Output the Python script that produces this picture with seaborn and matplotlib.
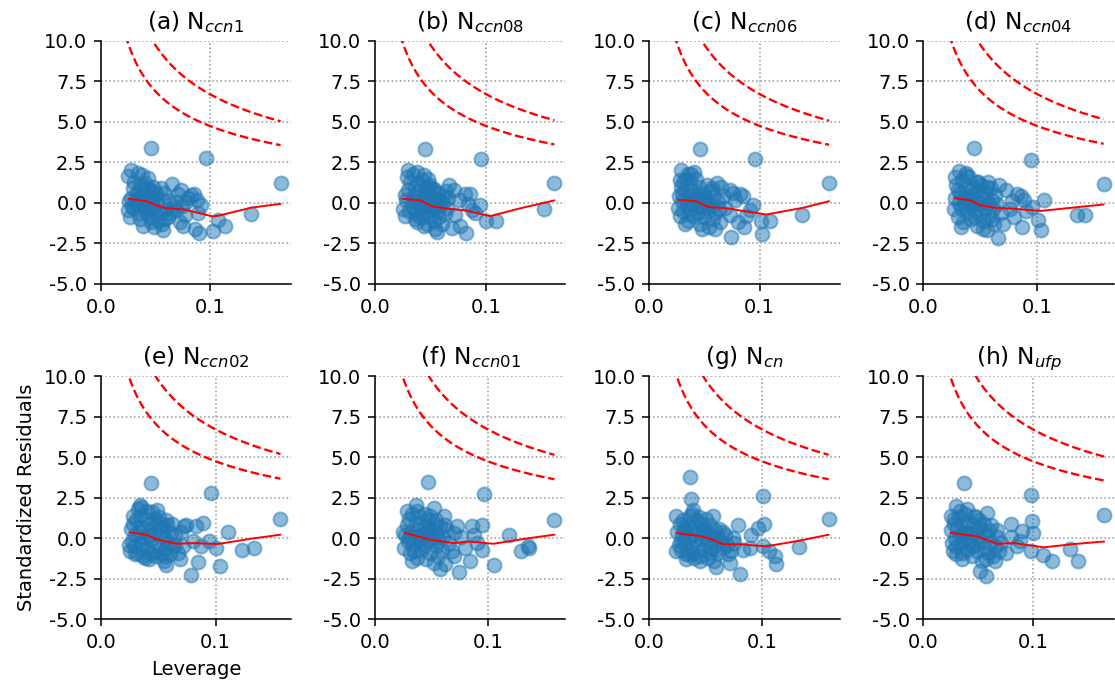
import numpy as np
import pandas as pd
import matplotlib
matplotlib.use("Agg")
import matplotlib.pyplot as plt
import seaborn as sns

# ── data (leverage, standardized residual) ──
pts_a = [(0.0466, 3.40), (0.0963, 2.75), (0.1650, 1.22), (0.1380, -0.70), (0.1140, -1.40), (0.1080, -1.05),
         (0.1030, -1.75), (0.0900, -1.85), (0.0863, -1.60), (0.0756, -1.45), (0.0726, -1.20), (0.0920, -0.15),
         (0.0890, -0.65), (0.0770, -0.75), (0.0830, 0.46), (0.0860, 0.56), (0.0740, 0.77), (0.0650, 1.14),
         (0.0710, 0.56), (0.0780, 0.05), (0.0695, 0.05), (0.0695, -0.47), (0.0800, 0.30), (0.0880, 0.20),
         (0.0750, -0.20), (0.0253, 1.63), (0.0275, 2.00), (0.0344, 1.85), (0.0380, 1.70), (0.0436, 1.55),
         (0.0410, 1.20), (0.0300, 0.90), (0.0330, 0.60), (0.0280, 0.30), (0.0260, 0.10), (0.0253, -0.47),
         (0.0270, -0.88), (0.0300, -0.30), (0.0330, -0.10), (0.0350, 0.30), (0.0370, 0.90), (0.0390, 0.50),
         (0.0400, -0.20), (0.0420, -0.60), (0.0390, -1.40), (0.0360, -1.00), (0.0440, 0.20), (0.0460, 0.70),
         (0.0480, 1.00), (0.0500, 0.40), (0.0520, -0.10), (0.0527, -1.09), (0.0560, -1.30), (0.0573, -1.70),
         (0.0540, -0.60), (0.0570, 0.10), (0.0580, 0.60), (0.0600, -0.40), (0.0620, -0.90), (0.0450, -0.90),
         (0.0480, -0.30), (0.0310, 1.30), (0.0340, -0.60), (0.0430, 0.90), (0.0500, -0.70), (0.0460, -1.20),
         (0.0550, 0.90), (0.0290, -0.20), (0.0320, 0.20), (0.0380, 0.00), (0.0410, -0.40), (0.0470, 0.10),
         (0.0510, 0.60), (0.0630, 0.20), (0.0660, -0.30), (0.0640, -0.60), (0.0590, -1.00), (0.0360, 1.10),
         (0.0440, -0.30), (0.0490, -1.50)]
pts_b = [(0.0449, 3.34), (0.0958, 2.68), (0.1617, 1.22), (0.1524, -0.36), (0.1093, -1.09), (0.1000, -1.12),
         (0.0300, 2.05), (0.0665, 1.07), (0.0815, 0.56), (0.0860, 0.56), (0.0950, -0.16), (0.0875, -0.47),
         (0.0725, -0.78), (0.0710, 0.77), (0.0485, 0.98), (0.0530, 0.88), (0.0440, 1.70), (0.0380, 1.90),
         (0.0818, -1.83), (0.0690, -1.58), (0.0770, -1.40), (0.0760, 0.20), (0.0900, -0.60), (0.0650, -0.30),
         (0.0840, -0.10), (0.0250, -0.40), (0.0270, -0.80), (0.0280, 0.20), (0.0300, 0.80), (0.0320, 1.30),
         (0.0330, -0.20), (0.0350, 0.40), (0.0360, 1.00), (0.0370, -0.60), (0.0380, -1.20), (0.0390, 0.10),
         (0.0400, 0.70), (0.0410, -0.30), (0.0420, 1.40), (0.0430, -0.90), (0.0440, 0.30), (0.0450, -0.50),
         (0.0460, 0.90), (0.0470, -1.30), (0.0480, 0.00), (0.0490, 0.50), (0.0500, -0.80), (0.0510, -0.20),
         (0.0520, 0.30), (0.0530, -1.10), (0.0540, -1.60), (0.0550, 0.10), (0.0560, -0.50), (0.0570, 0.60),
         (0.0580, -0.90), (0.0600, -1.30), (0.0610, 0.00), (0.0620, 0.40), (0.0630, -0.70), (0.0290, 1.60),
         (0.0340, 1.80), (0.0310, -0.50), (0.0360, -1.00), (0.0390, 1.20), (0.0420, 0.00), (0.0450, 0.60),
         (0.0470, -0.20), (0.0500, 1.10), (0.0530, 0.70), (0.0580, 0.20), (0.0640, 0.70), (0.0660, 0.30),
         (0.0440, -1.40), (0.0560, -1.80), (0.0340, 0.10), (0.0400, -0.80), (0.0480, 1.50), (0.0520, -0.40),
         (0.0590, -0.20), (0.0270, 0.50)]
pts_c = [(0.0464, 3.34), (0.0955, 2.72), (0.1630, 1.22), (0.1380, -0.78), (0.1090, -1.09), (0.1015, -1.09),
         (0.0653, 1.00), (0.0820, 0.56), (0.0850, 0.45), (0.0940, -0.16), (0.0292, 2.05), (0.0380, 1.80),
         (0.0307, 1.30), (0.0730, 0.77), (0.0910, -0.47), (0.0730, -0.78), (0.0740, -2.10), (0.1020, -1.90),
         (0.0860, -1.50), (0.0780, 0.20), (0.0690, -0.30), (0.0800, -1.20), (0.0880, -0.80), (0.0760, 0.60),
         (0.0680, 0.40), (0.0260, -0.30), (0.0270, 0.40), (0.0280, -0.80), (0.0290, 1.00), (0.0300, 0.10),
         (0.0310, -0.50), (0.0320, 0.70), (0.0330, 1.50), (0.0340, -0.10), (0.0350, -1.10), (0.0360, 0.40),
         (0.0370, 1.20), (0.0380, -0.40), (0.0390, 0.80), (0.0400, 0.00), (0.0410, -0.80), (0.0420, 1.50),
         (0.0430, 0.30), (0.0440, -0.60), (0.0450, 1.00), (0.0460, -1.30), (0.0470, 0.10), (0.0480, 0.60),
         (0.0490, -0.30), (0.0500, -0.90), (0.0510, 0.30), (0.0520, 1.10), (0.0530, -0.50), (0.0540, -1.50),
         (0.0550, 0.00), (0.0560, 0.70), (0.0570, -0.20), (0.0580, -1.00), (0.0590, 0.40), (0.0600, -0.60),
         (0.0610, 1.20), (0.0620, 0.10), (0.0630, -0.40), (0.0640, -1.20), (0.0320, -1.30), (0.0350, 1.80),
         (0.0410, 1.90), (0.0450, -0.20), (0.0480, -1.60), (0.0360, -0.70), (0.0300, 0.60), (0.0440, 0.50),
         (0.0520, -0.10), (0.0570, 0.90), (0.0600, -1.60), (0.0280, 1.40), (0.0380, 0.20)]
pts_d = [(0.0445, 3.40), (0.0947, 2.66), (0.1585, 1.14), (0.1064, 0.19), (0.1350, -0.78), (0.1424, -0.78),
         (0.1006, -1.05), (0.0956, -0.27), (0.1035, -1.70), (0.0868, -1.50), (0.0664, 1.10), (0.0722, 0.77),
         (0.0825, 0.56), (0.0854, 0.45), (0.0883, 0.15), (0.0313, 1.97), (0.0371, 1.86), (0.0474, 1.30),
         (0.0560, 0.98), (0.0658, -2.15), (0.0760, -0.40), (0.0800, -0.90), (0.0700, -1.30), (0.0900, -0.50),
         (0.0780, 0.10), (0.0270, -0.40), (0.0280, 0.30), (0.0290, 1.10), (0.0300, -0.90), (0.0310, 0.00),
         (0.0320, 0.60), (0.0330, -0.30), (0.0340, 1.40), (0.0350, -1.20), (0.0360, 0.30), (0.0370, 0.90),
         (0.0380, -0.60), (0.0390, 0.10), (0.0400, 1.60), (0.0410, -0.20), (0.0420, -1.00), (0.0430, 0.50),
         (0.0440, 1.00), (0.0450, -0.50), (0.0460, 0.20), (0.0470, -1.40), (0.0480, 0.70), (0.0490, -0.10),
         (0.0500, -0.70), (0.0510, 1.10), (0.0520, 0.30), (0.0530, -1.10), (0.0540, -0.30), (0.0550, 0.60),
         (0.0560, -1.70), (0.0570, 0.00), (0.0580, -0.80), (0.0590, 0.90), (0.0600, 0.20), (0.0610, -0.40),
         (0.0620, -1.30), (0.0630, 0.50), (0.0650, -0.10), (0.0680, -0.60), (0.0300, 0.80), (0.0330, -1.50),
         (0.0370, 1.70), (0.0410, 0.70), (0.0450, -0.90), (0.0480, 1.30), (0.0520, -1.60), (0.0360, -0.20),
         (0.0440, 0.00), (0.0570, 1.30), (0.0280, 1.60), (0.0600, -1.00)]
pts_e = [(0.0442, 3.40), (0.0957, 2.78), (0.1564, 1.18), (0.1338, -0.60), (0.1230, -0.70), (0.1107, 0.39),
         (0.1035, -1.73), (0.1006, -0.60), (0.0783, -2.24), (0.0847, -1.46), (0.0890, 0.94), (0.0833, 0.73),
         (0.0746, 0.83), (0.0340, 2.06), (0.0283, 1.35), (0.0486, 1.76), (0.0570, 1.14), (0.0254, -0.80),
         (0.0384, -1.21), (0.0570, -1.62), (0.0688, -1.31), (0.0945, -0.20), (0.0729, 0.73), (0.0323, 1.78),
         (0.0870, -0.50), (0.0650, -0.40), (0.0800, -0.20), (0.0260, 0.60), (0.0270, -0.20), (0.0280, 0.90),
         (0.0290, -0.50), (0.0300, 0.20), (0.0310, 1.10), (0.0320, -0.90), (0.0330, 0.40), (0.0340, 1.40),
         (0.0350, -0.30), (0.0360, 0.70), (0.0370, -1.10), (0.0380, 0.00), (0.0390, 1.20), (0.0400, -0.60),
         (0.0410, 0.50), (0.0420, -1.30), (0.0430, 0.90), (0.0440, -0.10), (0.0450, 1.60), (0.0460, -0.80),
         (0.0470, 0.30), (0.0480, -1.10), (0.0490, 0.80), (0.0500, -0.40), (0.0510, 1.30), (0.0520, 0.10),
         (0.0530, -0.90), (0.0540, 0.50), (0.0550, -1.40), (0.0560, 0.00), (0.0570, -0.60), (0.0580, 0.80),
         (0.0590, -0.30), (0.0600, -1.00), (0.0610, 0.30), (0.0630, -0.50), (0.0650, 0.20), (0.0670, -0.90),
         (0.0700, 0.40), (0.0720, -0.50), (0.0350, 1.90), (0.0400, 1.70), (0.0440, -1.00), (0.0300, -1.00),
         (0.0470, 1.20), (0.0530, 0.90), (0.0420, 0.20), (0.0360, -0.40), (0.0560, -1.10), (0.0620, 0.90),
         (0.0250, -0.40)]
pts_f = [(0.0470, 3.46), (0.0962, 2.72), (0.1589, 1.14), (0.1183, 0.22), (0.1353, -0.50), (0.1295, -0.76),
         (0.1050, -1.62), (0.0947, 0.84), (0.0859, 0.73), (0.0727, 0.73), (0.0845, -1.42), (0.0740, -2.10),
         (0.0520, 1.86), (0.0360, 2.06), (0.0285, 1.65), (0.0610, 1.35), (0.1360, -0.60), (0.0900, -0.30),
         (0.0800, -0.60), (0.0700, -1.10), (0.0880, 0.20), (0.0760, 0.10), (0.0950, -0.70), (0.0260, -0.60),
         (0.0270, 0.20), (0.0280, 0.80), (0.0290, -0.20), (0.0300, 1.20), (0.0310, -0.90), (0.0320, 0.40),
         (0.0330, 1.50), (0.0340, -0.40), (0.0350, 0.10), (0.0360, 0.90), (0.0370, -1.20), (0.0380, 0.50),
         (0.0390, -0.10), (0.0400, 1.30), (0.0410, -0.70), (0.0420, 0.20), (0.0430, 0.80), (0.0440, -0.40),
         (0.0450, -1.30), (0.0460, 0.40), (0.0470, 1.10), (0.0480, -0.20), (0.0490, -0.90), (0.0500, 0.60),
         (0.0510, 0.00), (0.0520, -1.50), (0.0530, 0.90), (0.0540, -0.50), (0.0550, 0.30), (0.0560, -1.10),
         (0.0570, -0.20), (0.0580, 0.70), (0.0590, -0.70), (0.0600, 0.10), (0.0620, -1.60), (0.0640, 0.50),
         (0.0660, -0.30), (0.0680, -0.80), (0.0700, 0.30), (0.0330, -1.40), (0.0370, 1.70), (0.0440, 1.50),
         (0.0490, 1.40), (0.0540, 1.10), (0.0580, -1.90), (0.0300, 0.00), (0.0410, -0.30), (0.0470, 0.50),
         (0.0350, -0.80), (0.0620, 0.80), (0.0250, 0.40)]
pts_g = [(0.0365, 3.77), (0.0373, 2.41), (0.1006, 2.58), (0.1589, 1.20), (0.1324, -0.56), (0.1020, 0.88),
         (0.0962, 0.63), (0.0786, 0.84), (0.0903, 0.22), (0.1006, -0.50), (0.1065, -0.80), (0.1110, -1.11),
         (0.1124, -1.58), (0.0800, -2.20), (0.0594, -1.79), (0.0712, -1.52), (0.0240, 1.35), (0.0390, 1.76),
         (0.0565, 1.35), (0.0240, -0.80), (0.0330, -1.00), (0.0447, -1.11), (0.0697, -1.00), (0.0830, -0.70),
         (0.0889, -0.60), (0.0750, -0.30), (0.0650, 0.40), (0.0250, 0.40), (0.0260, -0.40), (0.0270, 0.90),
         (0.0280, -0.70), (0.0290, 0.20), (0.0300, 1.10), (0.0310, -0.20), (0.0320, 0.50), (0.0330, -1.30),
         (0.0340, 0.80), (0.0350, 0.00), (0.0360, 1.40), (0.0370, -0.60), (0.0380, 0.30), (0.0390, -0.90),
         (0.0400, 0.70), (0.0410, -0.10), (0.0420, 1.10), (0.0430, -0.50), (0.0440, 0.40), (0.0450, -1.40),
         (0.0460, 0.90), (0.0470, 0.00), (0.0480, -0.70), (0.0490, 0.50), (0.0500, 1.20), (0.0510, -0.30),
         (0.0520, -1.20), (0.0530, 0.20), (0.0540, 0.80), (0.0550, -0.60), (0.0560, -0.10), (0.0570, -1.40),
         (0.0580, 0.50), (0.0590, -0.40), (0.0600, 0.10), (0.0610, -0.90), (0.0630, -0.20), (0.0650, -0.60),
         (0.0670, 0.20), (0.0690, -0.40), (0.0720, -0.80), (0.0740, 0.00), (0.0350, -1.00), (0.0310, 0.60),
         (0.0440, 1.30), (0.0400, -1.20), (0.0480, 0.60), (0.0540, -0.90), (0.0380, 1.50), (0.0620, 0.60),
         (0.0280, -0.20)]
pts_h = [(0.0370, 3.40), (0.0980, 2.64), (0.1648, 1.45), (0.0294, 1.96), (0.0580, 1.55), (0.0794, 0.88),
         (0.0990, 1.04), (0.1000, 0.33), (0.0900, 0.42), (0.1333, -0.64), (0.1090, -1.01), (0.1173, -1.38),
         (0.1406, -1.42), (0.0976, -0.81), (0.0248, 1.35), (0.0670, 0.53), (0.0570, -2.35), (0.0520, -2.00),
         (0.0850, -0.50), (0.0750, -0.90), (0.0650, -1.40), (0.0880, -0.20), (0.0800, 0.10), (0.0250, 0.50),
         (0.0260, -0.30), (0.0270, -0.80), (0.0280, 0.90), (0.0290, 0.00), (0.0300, -1.00), (0.0310, 0.60),
         (0.0320, 1.30), (0.0330, -0.40), (0.0340, 0.20), (0.0350, -1.30), (0.0360, 0.90), (0.0370, -0.10),
         (0.0380, 1.50), (0.0390, 0.40), (0.0400, -0.70), (0.0410, 1.00), (0.0420, -0.20), (0.0430, 0.30),
         (0.0440, -1.10), (0.0450, 0.80), (0.0460, 1.40), (0.0470, -0.40), (0.0480, 0.10), (0.0490, -0.80),
         (0.0500, 0.60), (0.0510, 1.10), (0.0520, -0.20), (0.0530, -1.40), (0.0540, 0.40), (0.0550, 0.90),
         (0.0560, -0.60), (0.0570, -1.30), (0.0580, 0.20), (0.0590, -0.90), (0.0600, 0.50), (0.0610, -0.30),
         (0.0630, -1.10), (0.0650, -0.50), (0.0670, 0.10), (0.0690, -0.80), (0.0710, -0.30), (0.0330, 1.70),
         (0.0400, 1.80), (0.0480, 1.30), (0.0300, -0.50), (0.0360, 0.30), (0.0440, -0.50), (0.0520, 0.70),
         (0.0620, 0.80), (0.0350, -0.90), (0.0280, 1.20)]

# lowess trend (red solid) vertices
trend_a = [(0.0253, 0.25), (0.042, 0.10), (0.051, -0.16), (0.060, -0.33), (0.0756, -0.41), (0.0863, -0.57),
           (0.103, -0.84), (0.109, -0.78), (0.138, -0.30), (0.165, -0.06)]
trend_b = [(0.0246, 0.25), (0.041, 0.15), (0.0515, -0.22), (0.0665, -0.37), (0.0815, -0.47), (0.104, -0.82),
           (0.129, -0.37), (0.1617, 0.15)]
trend_c = [(0.026, 0.19), (0.0427, 0.10), (0.053, -0.25), (0.073, -0.35), (0.082, -0.47), (0.106, -0.72),
           (0.139, -0.31), (0.163, 0.10)]
trend_d = [(0.027, 0.30), (0.0415, 0.15), (0.050, -0.15), (0.062, -0.30), (0.0796, -0.37), (0.103, -0.50),
           (0.132, -0.29), (0.1585, -0.10)]
trend_e = [(0.0252, 0.36), (0.0396, 0.22), (0.0497, -0.09), (0.0656, -0.34), (0.0815, -0.30), (0.1017, -0.36),
           (0.1307, -0.03), (0.1564, 0.22)]
trend_f = [(0.0265, 0.33), (0.049, -0.09), (0.0697, -0.30), (0.083, -0.20), (0.105, -0.34), (0.133, -0.03),
           (0.1589, 0.22)]
trend_g = [(0.024, 0.33), (0.046, 0.12), (0.0565, -0.10), (0.0653, -0.37), (0.080, -0.37), (0.1035, -0.50),
           (0.133, -0.15), (0.1589, 0.22)]
trend_h = [(0.0248, 0.33), (0.049, 0.12), (0.067, -0.34), (0.0825, -0.30), (0.1097, -0.56), (0.137, -0.36),
           (0.1648, -0.20)]

titles = ["(a) N$_{ccn1}$", "(b) N$_{ccn08}$", "(c) N$_{ccn06}$", "(d) N$_{ccn04}$",
          "(e) N$_{ccn02}$", "(f) N$_{ccn01}$", "(g) N$_{cn}$", "(h) N$_{ufp}$"]
points = [pts_a, pts_b, pts_c, pts_d, pts_e, pts_f, pts_g, pts_h]
trends = [trend_a, trend_b, trend_c, trend_d, trend_e, trend_f, trend_g, trend_h]
x_right = [0.1747, 0.1716, 0.1725, 0.1675, 0.1657, 0.1686, 0.1686, 0.1736]

# Cook's distance contours
n_params = 5
cook_levels = [0.5, 1.0]

sns.set_style("ticks", rc={"axes.edgecolor": "black", "xtick.color": "black",
                           "ytick.color": "black", "text.color": "black",
                           "axes.labelcolor": "black"})
plt.rcParams["font.family"] = ["DejaVu Sans"]

fig, axes = plt.subplots(2, 4, figsize=(1115 / 140, 686 / 140), dpi=140)
fig.subplots_adjust(left=0.0903, right=0.999, top=0.9407, bottom=0.0972,
                    wspace=0.44, hspace=0.379)

blue = "#1f77b4"
for i, ax in enumerate(axes.flat):
    df = pd.DataFrame(points[i], columns=["lev", "res"])
    tr = pd.DataFrame(trends[i], columns=["lev", "res"])

    sns.scatterplot(data=df, x="lev", y="res", ax=ax, s=52, color=blue,
                    edgecolor=blue, linewidth=1.0, alpha=0.5, zorder=3)
    sns.lineplot(data=tr, x="lev", y="res", ax=ax, color="red", lw=1.0,
                 sort=False, estimator=None, zorder=4)

    h = np.linspace(0.015, df["lev"].max(), 200)
    for lvl in cook_levels:
        ax.plot(h, np.sqrt(lvl * n_params * (1 - h) / h), color="red",
                ls="--", lw=1.2, zorder=2)

    ax.set_xlim(0, x_right[i])
    ax.set_ylim(-5, 10)
    ax.set_xticks([0.0, 0.1])
    ax.set_yticks(np.arange(-5, 10.1, 2.5))
    ax.xaxis.set_major_formatter(matplotlib.ticker.FormatStrFormatter("%.1f"))
    ax.yaxis.set_major_formatter(matplotlib.ticker.FormatStrFormatter("%.1f"))
    ax.grid(True, ls=":", color="#999999", lw=0.8)
    ax.set_title(titles[i], fontsize=12)
    ax.set_xlabel("")
    ax.set_ylabel("")
    sns.despine(ax=ax)

axes[1, 0].set_xlabel("Leverage")
axes[1, 0].set_ylabel("Standardized Residuals")

fig.savefig("out.png", dpi=140)
